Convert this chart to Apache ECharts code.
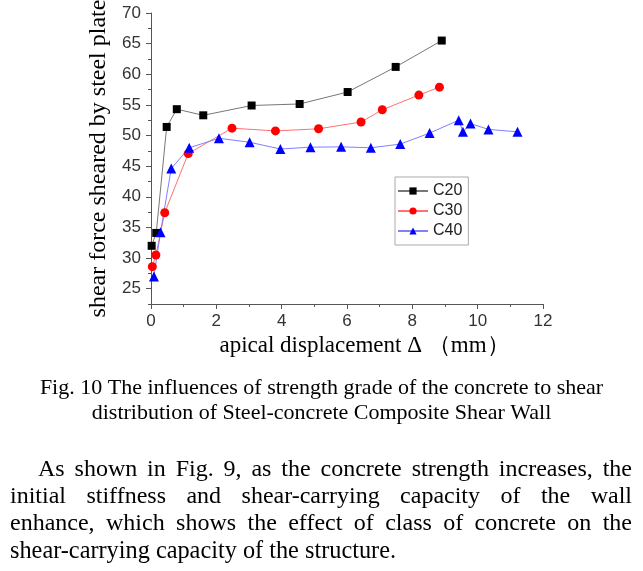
<!DOCTYPE html>
<html>
<head>
<meta charset="utf-8">
<script src="https://cdn.jsdelivr.net/npm/echarts@6/dist/echarts.min.js"></script>
<style>
  html, body { margin: 0; padding: 0; background: #fff; }
  #chart { width: 643px; height: 571px; }
</style>
</head>
<body>
<div id="chart"></div>
<script>
// displacement (mm) / shear force values
const c20X = [0.02, 0.16, 0.48, 0.79, 1.6, 3.08, 4.55, 6.02, 7.49, 8.9];
const c20Y = [32.0, 34.1, 51.4, 54.3, 53.3, 54.9, 55.15, 57.1, 61.2, 65.5];

const c30X = [0.04, 0.15, 0.42, 1.14, 2.48, 3.81, 5.13, 6.43, 7.08, 8.2, 8.83];
const c30Y = [28.6, 30.5, 37.4, 47.05, 51.2, 50.75, 51.1, 52.2, 54.2, 56.6, 57.9];

const c40X = [0.09, 0.29, 0.62, 1.17, 2.08, 3.02, 3.96, 4.88, 5.82, 6.73, 7.63, 8.53, 9.42, 9.55, 9.78, 10.33, 11.22];
const c40Y = [27.0, 34.2, 44.6, 48.0, 49.55, 48.9, 47.8, 48.1, 48.15, 48.0, 48.6, 50.4, 52.5, 50.6, 51.95, 51.0, 50.6];

const seriesNames = ['C20', 'C30', 'C40'];
const yMajorTicks = [25, 30, 35, 40, 45, 50, 55, 60, 65, 70];
const yMinorTicks = [22.5, 27.5, 32.5, 37.5, 42.5, 47.5, 52.5, 57.5, 62.5, 67.5];

const captionLines = [
  'Fig. 10 The influences of strength grade of the concrete to shear',
  'distribution of Steel-concrete Composite Shear Wall'
];
const paragraphLines = [
  'As shown in Fig. 9, as the concrete strength increases, the',
  'initial stiffness and shear-carrying capacity of the wall',
  'enhance, which shows the effect of class of concrete on the',
  'shear-carrying capacity of the structure.'
];

const zip = (xs, ys) => xs.map((x, i) => [x, ys[i]]);

const serif = '"Liberation Serif", "Times New Roman", serif';
const sans = '"Liberation Sans", Arial, sans-serif';

// measure words so the paragraph lines can be justified like the source page
const ctx = document.createElement('canvas').getContext('2d');
function justifiedLine(text, left, right, y, size, justify) {
  ctx.font = size + 'px ' + serif;
  const words = text.split(' ');
  const widths = words.map(w => ctx.measureText(w).width);
  const total = widths.reduce((a, b) => a + b, 0);
  const gap = justify ? (right - left - total) / (words.length - 1) : ctx.measureText(' ').width;
  let x = left;
  return words.map((w, i) => {
    const el = {
      type: 'text', x: x, y: y,
      style: { text: w, fontSize: size, fontFamily: serif, fill: '#000', verticalAlign: 'middle' }
    };
    x += widths[i] + gap;
    return el;
  });
}

const graphics = [];
captionLines.forEach((t, i) => {
  graphics.push({
    type: 'text', x: 321.5, y: 388 + i * 25,
    style: { text: t, fontSize: 22, fontFamily: serif, fill: '#000', align: 'center', verticalAlign: 'middle' }
  });
});
graphics.push(...justifiedLine(paragraphLines[0], 38, 632, 470, 24, true));
graphics.push(...justifiedLine(paragraphLines[1], 10, 632, 497, 24, true));
graphics.push(...justifiedLine(paragraphLines[2], 10, 632, 524, 24, true));
graphics.push(...justifiedLine(paragraphLines[3], 10, 632, 552, 24.3, false));

const chart = echarts.init(document.getElementById('chart'));

const option = {
  backgroundColor: '#fff',
  animation: false,
  grid: { left: 151, right: 100, top: 13, bottom: 267, outerBoundsMode: 'none' },
  legend: {
    data: seriesNames,
    orient: 'vertical',
    left: 395,
    top: 177,
    padding: [6, 6, 6, 2],
    itemGap: 4,
    itemWidth: 30,
    itemHeight: 9,
    borderColor: '#aaa',
    borderWidth: 1,
    borderRadius: 0,
    textStyle: { fontFamily: sans, fontSize: 16, color: '#222' }
  },
  xAxis: {
    type: 'value',
    min: 0,
    max: 12,
    interval: 2,
    name: 'apical displacement Δ （mm）',
    nameLocation: 'middle',
    nameGap: 30,
    nameTextStyle: { fontFamily: serif, fontSize: 23, color: '#000', padding: [0, 0, 0, 35] },
    axisLine: { lineStyle: { color: '#555', width: 1 } },
    axisTick: { length: 5, lineStyle: { color: '#555' } },
    minorTick: { show: true, splitNumber: 2, length: 3, lineStyle: { color: '#555' } },
    axisLabel: { fontFamily: sans, fontSize: 17, color: '#333', margin: 9 },
    splitLine: { show: false }
  },
  yAxis: [{
    type: 'value',
    min: 22.5,
    max: 70,
    name: 'shear force sheared by steel plate',
    nameLocation: 'middle',
    nameGap: 35,
    nameTextStyle: { fontFamily: serif, fontSize: 24, color: '#000' },
    axisLine: { show: true, lineStyle: { color: '#555', width: 1 } },
    axisTick: { show: true, length: 5, customValues: yMajorTicks, lineStyle: { color: '#555' } },
    axisLabel: { customValues: yMajorTicks, fontFamily: sans, fontSize: 17, color: '#333', margin: 10 },
    splitLine: { show: false }
  }, {
    // minor ticks between the labelled ones
    type: 'value',
    position: 'left',
    min: 22.5,
    max: 70,
    axisLine: { show: false },
    axisTick: { show: true, length: 3, customValues: yMinorTicks, lineStyle: { color: '#555' } },
    axisLabel: { show: false },
    splitLine: { show: false }
  }],
  series: [{
    name: 'C20',
    type: 'line',
    data: zip(c20X, c20Y),
    symbol: 'rect',
    symbolSize: 8,
    clip: false,
    itemStyle: { color: '#000' },
    lineStyle: { color: '#777', width: 1 }
  }, {
    name: 'C30',
    type: 'line',
    data: zip(c30X, c30Y),
    symbol: 'circle',
    symbolSize: 9,
    clip: false,
    itemStyle: { color: '#ff0000' },
    lineStyle: { color: '#ff7070', width: 1 }
  }, {
    name: 'C40',
    type: 'line',
    data: zip(c40X, c40Y),
    symbol: 'triangle',
    symbolSize: 10,
    clip: false,
    itemStyle: { color: '#0000ff' },
    lineStyle: { color: '#8080ff', width: 1 }
  }],
  graphic: graphics
};

chart.setOption(option);
</script>
</body>
</html>
